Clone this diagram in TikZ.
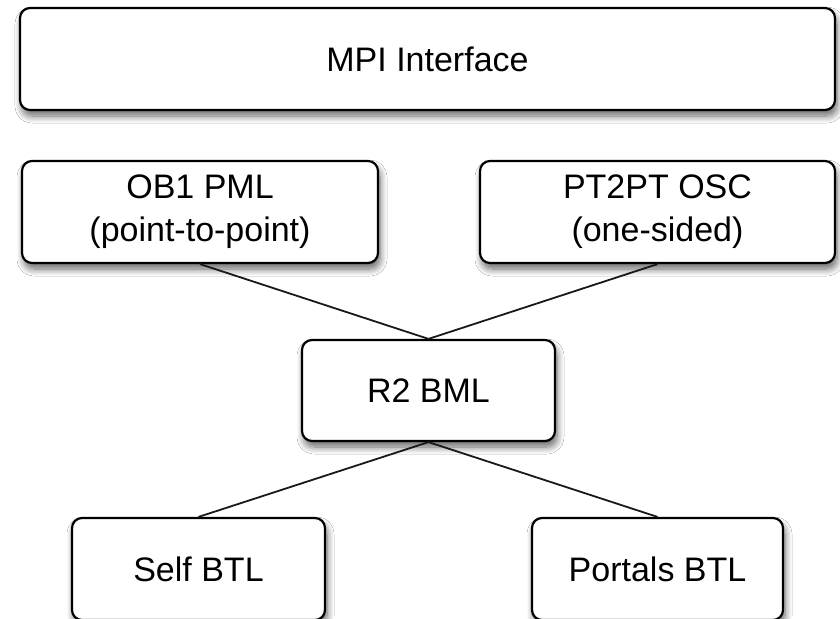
\documentclass[tikz,border=0pt]{standalone}
\usepackage{fontspec}
\setmainfont{Liberation Sans}
\usetikzlibrary{shadows.blur}
\begin{document}
\begin{tikzpicture}[x=1pt,y=-1pt,
  box/.style={draw=black, line width=2.2pt, rounded corners=10pt, fill=white,
    align=center, font=\fontsize{34}{43}\selectfont, inner sep=0pt,
    blur shadow={shadow xshift=2pt, shadow yshift=-6pt, shadow blur radius=7pt, shadow blur steps=8, shadow opacity=60}},
  link/.style={line width=1.8pt, draw=black!90}]
\useasboundingbox (0,0) rectangle (840,618);
\fill[white] (0,0) rectangle (840,618);
\clip (0,0) rectangle (840,618);
\node[box, minimum width=815pt, minimum height=102pt] (mpi) at (427.5,59) {MPI Interface};
\node[box, minimum width=356pt, minimum height=102pt] (ob1) at (200,212) {OB1 PML\\(point-to-point)};
\node[box, minimum width=355pt, minimum height=102pt] (osc) at (657.5,212) {PT2PT OSC\\(one-sided)};
\node[box, minimum width=253pt, minimum height=101pt] (r2) at (428.5,390.5) {R2 BML};
\node[box, minimum width=253pt, minimum height=102pt] (self) at (198.5,569) {Self BTL};
\node[box, minimum width=251pt, minimum height=102pt] (portals) at (657.5,569) {Portals BTL};
\draw[link] (ob1.south) -- (r2.north);
\draw[link] (osc.south) -- (r2.north);
\draw[link] (r2.south) -- (self.north);
\draw[link] (r2.south) -- (portals.north);
\end{tikzpicture}
\end{document}
